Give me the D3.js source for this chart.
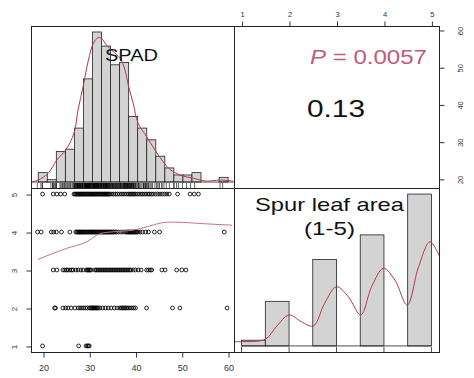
<!DOCTYPE html>
<html><head><meta charset="utf-8">
<script src="https://cdn.jsdelivr.net/npm/d3@7"></script>
<style>body{margin:0;background:#fff}svg{display:block}text{font-family:"Liberation Sans",Arial,sans-serif}</style>
</head><body><svg id="c" width="474" height="378"></svg>
<script>
// ---- data ----
const spadBreaks = [19,21,23,25,27,29,31,33,35,37,39,41,43,45,47,49,51,53,55,57,59,61];
const spadCounts = [4,1,13,14,23,44,64,58,50,51,28,23,18,11,6,3,3,4,0,0,2];
const spadDensX = [17.5,19.0,21.2,23.1,25.1,26.9,27.8,29.0,30.1,31.2,32.3,33.0,34.1,35.6,37.1,38.2,38.9,40.0,41.1,43.0,44.8,46.6,48.1,50.3,53.3,56.2,59.2,62.1];
const spadDensY = [0,0.85,3.7,9.4,13.7,20.8,30.7,41.4,52.0,59.2,61.7,61.3,58.4,55.6,52.8,47.8,41.4,33.6,25.0,19.3,13.7,8.7,5.4,3.0,1.6,0.4,0.85,0.4];
const leafBreaks = [1,1.5,2,2.5,3,3.5,4,4.5,5];
const leafCounts = [6,47,0,91,0,117,0,160];
const leafLevels = [1,2,3,4,5];
const leafDensX = [0.82,1.0,1.5,1.73,2.0,2.26,2.51,2.75,3.0,3.25,3.51,3.74,3.99,4.23,4.49,4.73,4.97,5.17];
const leafDensY = [4.5,4.5,7,20.2,32.6,25.5,21,44.9,62.4,51.8,32.6,62.4,81.8,69.4,43.1,83.5,109.8,94.7];
const spadL1 = [19.9,27.7,29.3,29.6,29.8,30.0];
const spadL2 = [22.5,22.7,24.3,24.9,25.4,26.1,26.9,27.6,28.0,28.4,28.8,29.2,29.6,30.0,30.3,30.5,30.7,30.9,31.1,31.3,31.5,31.7,31.9,32.3,32.9,33.5,34.1,34.7,35.4,36.0,36.6,36.9,37.2,37.5,37.8,38.1,38.4,38.8,39.2,39.6,40.0,42.4,48.0,49.6,59.8];
const spadL3 = [22.2,23.0,24.3,24.7,25.1,25.4,25.8,26.2,26.5,27.1,27.6,28.2,28.7,29.4,29.6,29.8,30.0,30.2,30.4,31.2,31.5,31.8,32.1,32.4,32.7,33.0,33.3,33.6,33.9,34.2,34.5,34.8,35.1,35.4,35.7,36.0,36.3,36.6,36.9,37.2,37.5,37.8,38.1,38.4,38.7,39.0,39.5,40.0,40.6,41.2,42.4,42.8,43.2,43.5,45.7,46.4,48.9,50.0,50.9];
const spadL4 = [18.8,19.6,21.8,22.3,22.9,24.0,25.8,27.1,27.3,27.5,27.7,27.9,28.1,28.3,28.5,28.7,28.9,29.1,29.3,29.5,29.7,29.9,30.1,30.3,30.5,30.7,30.9,31.1,31.3,31.5,31.7,31.9,32.1,32.3,32.5,32.7,32.9,33.1,33.3,33.5,33.7,33.9,34.1,34.3,34.5,34.7,34.9,35.1,35.3,35.6,35.9,36.3,36.8,37.3,37.8,38.1,38.3,38.5,38.7,38.9,39.1,39.3,39.5,39.7,39.9,40.1,40.3,40.5,41.0,41.5,42.2,42.8,44.1,45.2,59.2];
const spadL5 = [19.9,22.2,23.0,23.8,24.7,26.7,26.9,27.1,27.3,27.5,27.7,27.9,28.1,28.3,28.5,28.7,28.9,29.1,29.3,29.5,29.7,29.9,30.1,30.3,30.5,30.7,30.9,31.1,31.3,31.5,31.7,31.9,32.1,32.3,32.5,32.7,32.9,33.1,33.3,33.5,33.7,33.9,34.1,34.3,34.5,34.9,35.3,35.7,36.1,36.5,36.9,37.3,37.7,38.1,38.5,38.8,39.1,39.4,39.7,40.0,40.4,40.8,41.2,41.5,41.9,42.3,42.7,43.0,43.4,43.8,44.3,44.8,45.3,45.8,46.3,46.8,47.3,49.1,51.8,52.7,53.6];
const lowessX = [18.9,25.1,29.4,32.4,35.5,39.5,42.5,46.9,48.3,54.7,60.9];
const lowessY = [3.28,3.57,3.74,3.96,4.01,4.05,4.14,4.26,4.26,4.22,4.18];
const spadTicks = [20,30,40,50,60];
const pText = "0.0057";
const rText = "0.13";

// ---- layout ----
const L=31, M=234, R=439, T=26, H=188, B=352;
const svg = d3.select("#c");
const defs = svg.append("defs");
[["c11",L,T,M-L,H-T],["c22",M,H,R-M,B-H],["c21",L,H,M-L,B-H]].forEach(([id,x,y,w,h])=>{
  defs.append("clipPath").attr("id",id).append("rect").attr("x",x).attr("y",y).attr("width",w).attr("height",h);
});
const pad = h => h*0.04/1.08;

const xSpad = d3.scaleLinear().domain([17.4,61.3]).range([L,M]);
const xSpadHist = d3.scaleLinear().domain([17.4,62.3]).range([L,M]);
const yLeaf = d3.scaleLinear().domain([0.84,5.16]).range([B,H]);
const xLeaf = d3.scaleLinear().domain([0.84,5.16]).range([M,R]);
const ySpadR = d3.scaleLinear().domain([17.55,61.07]).range([H,T]);
const yCnt1 = d3.scaleLinear().domain([0,d3.max(spadCounts)]).range([H-pad(H-T),T+pad(H-T)]);
const yCnt2 = d3.scaleLinear().domain([0,d3.max(leafCounts)]).range([B-pad(B-H),H+pad(B-H)]);

const red = "#b23a4a";
// ---- top-left histogram ----
const g11 = svg.append("g").attr("clip-path","url(#c11)");
g11.selectAll("rect.b").data(spadCounts).join("rect")
  .attr("x",(d,i)=>xSpadHist(spadBreaks[i])).attr("width",(d,i)=>xSpadHist(spadBreaks[i+1])-xSpadHist(spadBreaks[i]))
  .attr("y",d=>yCnt1(d)).attr("height",d=>yCnt1(0)-yCnt1(d))
  .attr("fill",d=>d>0?"#d3d3d3":"none").attr("stroke",d=>d>0?"#222":"none").attr("stroke-width",0.8);
g11.append("line").attr("x1",L).attr("x2",M).attr("y1",yCnt1(0)).attr("y2",yCnt1(0)).attr("stroke","#222").attr("stroke-width",0.8);
const allSpad = [].concat(spadL1,spadL2,spadL3,spadL4,spadL5);
g11.selectAll("line.rug").data(allSpad).join("line")
  .attr("x1",d=>xSpadHist(d)).attr("x2",d=>xSpadHist(d)).attr("y1",H).attr("y2",H-5)
  .attr("stroke","#000").attr("stroke-width",0.6);
g11.append("path").datum(d3.zip(spadDensX,spadDensY))
  .attr("d",d3.line().x(d=>xSpadHist(d[0])).y(d=>yCnt1(d[1])).curve(d3.curveCatmullRom))
  .attr("fill","none").attr("stroke",red).attr("stroke-width",1);
svg.append("text").attr("x",105).attr("y",61).attr("font-size",17).attr("textLength",53).attr("lengthAdjust","spacingAndGlyphs").attr("fill","#111").text("SPAD");

// ---- bottom-right histogram ----
const g22 = svg.append("g").attr("clip-path","url(#c22)");
g22.selectAll("rect.b").data(leafCounts).join("rect")
  .attr("x",(d,i)=>xLeaf(leafBreaks[i])).attr("width",(d,i)=>xLeaf(leafBreaks[i+1])-xLeaf(leafBreaks[i]))
  .attr("y",d=>yCnt2(d)).attr("height",d=>yCnt2(0)-yCnt2(d))
  .attr("fill",d=>d>0?"#d3d3d3":"none").attr("stroke",d=>d>0?"#222":"none").attr("stroke-width",0.8);
g22.append("line").attr("x1",xLeaf(1)).attr("x2",xLeaf(5)).attr("y1",yCnt2(0)).attr("y2",yCnt2(0)).attr("stroke","#222").attr("stroke-width",0.8);
g22.selectAll("line.rug").data(leafLevels).join("line")
  .attr("x1",d=>xLeaf(d)).attr("x2",d=>xLeaf(d)).attr("y1",B).attr("y2",B-5)
  .attr("stroke","#000").attr("stroke-width",0.7);
g22.append("path").datum(d3.zip(leafDensX,leafDensY))
  .attr("d",d3.line().x(d=>xLeaf(d[0])).y(d=>yCnt2(d[1])).curve(d3.curveCatmullRom))
  .attr("fill","none").attr("stroke",red).attr("stroke-width",1);
svg.append("text").attr("x",255).attr("y",211).attr("font-size",18.5).attr("textLength",149).attr("lengthAdjust","spacingAndGlyphs").attr("fill","#111").text("Spur leaf area");
svg.append("text").attr("x",304).attr("y",235).attr("font-size",18.5).attr("textLength",51).attr("lengthAdjust","spacingAndGlyphs").attr("fill","#111").text("(1-5)");

// ---- bottom-left scatter ----
const g21 = svg.append("g").attr("clip-path","url(#c21)");
[spadL1,spadL2,spadL3,spadL4,spadL5].forEach((arr,k)=>{
  g21.selectAll("circle.l"+k).data(arr).join("circle")
    .attr("cx",d=>xSpad(d)).attr("cy",yLeaf(leafLevels[k])).attr("r",1.9)
    .attr("fill","none").attr("stroke","#000").attr("stroke-width",0.85);
});
g21.append("path").datum(d3.zip(lowessX,lowessY))
  .attr("d",d3.line().x(d=>xSpad(d[0])).y(d=>yLeaf(d[1])).curve(d3.curveMonotoneX))
  .attr("fill","none").attr("stroke","#c77480").attr("stroke-width",1);

// ---- top-right text ----
const pt = svg.append("text").attr("x",310).attr("y",64).attr("font-size",19.5).attr("textLength",117).attr("lengthAdjust","spacingAndGlyphs").attr("fill","#c25b7a");
pt.append("tspan").attr("font-style","italic").text("P");
pt.append("tspan").text(" = "+pText);
svg.append("text").attr("x",307).attr("y",117).attr("font-size",23).attr("textLength",58).attr("lengthAdjust","spacingAndGlyphs").attr("fill","#111").text(rText);

// ---- panel borders ----
[[L,T,M-L,H-T],[M,T,R-M,H-T],[L,H,M-L,B-H],[M,H,R-M,B-H]].forEach(([x,y,w,h])=>{
  svg.append("rect").attr("x",x+0.5).attr("y",y+0.5).attr("width",w).attr("height",h).attr("fill","none").attr("stroke","#222").attr("stroke-width",1);
});

// ---- axes ----
const ax = (g,fs)=>{ g.select(".domain").remove(); g.selectAll("text").attr("font-size",fs).attr("fill","#333").attr("font-family","Liberation Sans, Arial, sans-serif"); g.selectAll("line").attr("stroke","#333"); };
const gb = svg.append("g").attr("transform",`translate(0.5,${B+0.5})`).call(d3.axisBottom(xSpad).tickValues(spadTicks).tickSize(5).tickPadding(7));
ax(gb,9);
const gl = svg.append("g").attr("transform",`translate(${L+0.5},0.5)`).call(d3.axisLeft(yLeaf).tickValues(leafLevels).tickSize(5).tickFormat(d3.format("d")));
gl.select(".domain").remove(); gl.selectAll("line").attr("stroke","#333");
gl.selectAll("text").attr("x",null).attr("dy",null).attr("text-anchor","middle")
  .attr("transform","translate(-15,0) rotate(-90)").attr("font-size",8).attr("fill","#333");
const gt = svg.append("g").attr("transform",`translate(0.5,${T+0.5})`).call(d3.axisTop(xLeaf).tickValues(leafLevels).tickSize(5).tickPadding(5).tickFormat(d3.format("d")));
ax(gt,7.5);
const gr = svg.append("g").attr("transform",`translate(${R+0.5},0.5)`).call(d3.axisRight(ySpadR).tickValues(spadTicks).tickSize(5));
gr.select(".domain").remove(); gr.selectAll("line").attr("stroke","#333");
gr.selectAll("text").attr("x",null).attr("dy",null).attr("text-anchor","middle")
  .attr("transform","translate(23,0) rotate(-90)").attr("font-size",7.5).attr("fill","#333");
</script></body></html>
